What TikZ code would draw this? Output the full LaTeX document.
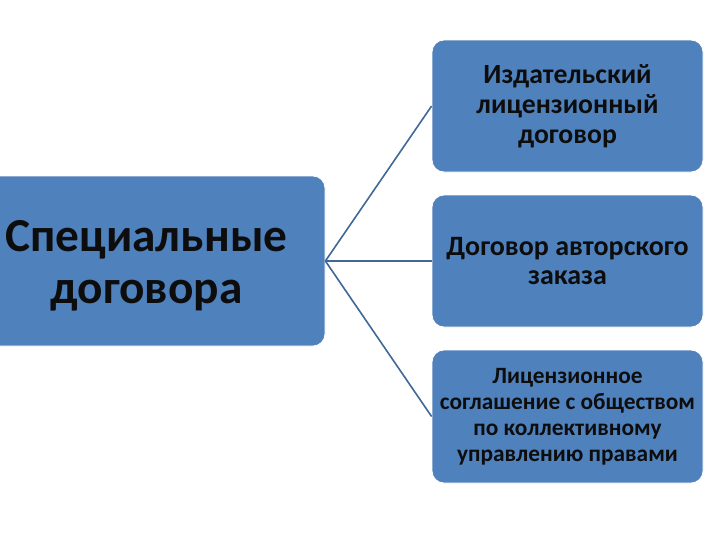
\documentclass[tikz,border=0pt]{standalone}
\usepackage{fontspec}
\setmainfont{Carlito}
\definecolor{boxblue}{HTML}{4F81BD}
\definecolor{linkblue}{HTML}{3F6897}
\definecolor{txt}{HTML}{0D0D0D}
\begin{document}
\begin{tikzpicture}[x=0.75pt,y=-0.75pt,
  bluebox/.style={rectangle, rounded corners=9pt, fill=boxblue, draw=white, line width=0.6pt,
    text=txt, font=\bfseries, align=center, inner sep=0pt},
  boxtext/.style={text=txt, align=center, inner sep=0pt},
  link/.style={draw=linkblue, line width=1.2pt}]
\useasboundingbox (0,0) rectangle (720,540);
\clip (0,0) rectangle (720,540);
\node[bluebox, minimum width=357*0.75pt, minimum height=170*0.75pt] (main) at (146.5,261) {};
\node[boxtext, font=\fontsize{35.5}{39}\selectfont\bfseries] (maintext) at (146.5,265.5) {Специальные\\договора};
\node[bluebox, minimum width=271*0.75pt, minimum height=132*0.75pt,
  font=\fontsize{20.8}{22.5}\selectfont\bfseries] (a) at (567.5,106) {Издательский\\лицензионный\\договор};
\node[bluebox, minimum width=271*0.75pt, minimum height=132*0.75pt,
  font=\fontsize{21}{21.5}\selectfont\bfseries] (b) at (567.5,261) {Договор авторского\\заказа};
\node[bluebox, minimum width=271*0.75pt, minimum height=133*0.75pt,
  font=\fontsize{17.5}{19.5}\selectfont\bfseries] (c) at (567.5,416.5) {Лицензионное\\соглашение с обществом\\по коллективному\\управлению правами};
\draw[link] (main.east) -- (a.west);
\draw[link] (main.east) -- (b.west);
\draw[link] (main.east) -- (c.west);
\end{tikzpicture}
\end{document}
